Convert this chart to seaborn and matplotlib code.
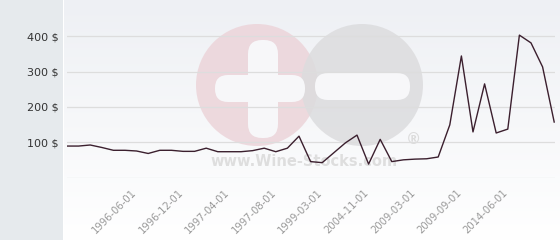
import numpy as np
import pandas as pd
import matplotlib
matplotlib.use("Agg")
import matplotlib.pyplot as plt
import matplotlib.transforms as mtransforms
from matplotlib.patches import Circle, FancyBboxPatch, Rectangle
import seaborn as sns

prices = [89, 89, 92, 85, 77, 77, 75, 68, 77, 77, 74, 74, 83, 73, 73, 73, 76,
          83, 73, 83, 117, 45, 42, 70, 98, 120, 38, 108, 45, 50, 52, 53, 58,
          149, 344, 129, 265, 126, 137, 403, 381, 313, 157]
tick_labels = ["1996-06-01", "1996-12-01", "1997-04-01", "1997-08-01",
               "1999-03-01", "2004-11-01", "2009-03-01", "2009-09-01",
               "2014-06-01"]
y_ticks = [100, 200, 300, 400]
y_tick_labels = ["100 $", "200 $", "300 $", "400 $"]

df = pd.DataFrame({"idx": np.arange(len(prices)), "price": prices})

W, H = 560, 240
fig = plt.figure(figsize=(W / 100, H / 100), dpi=100)
fig.patch.set_facecolor("white")

# background axes in pixel coordinates
bg = fig.add_axes([0, 0, 1, 1], zorder=0)
bg.set_xlim(0, W)
bg.set_ylim(H, 0)
bg.axis("off")
grad = np.linspace(0, 1, 256).reshape(-1, 1)
top = np.array([0xee, 0xf0, 0xf4]) / 255
bot = np.array([1.0, 1.0, 1.0])
img = top[None, None, :] * (1 - grad[:, :, None]) + bot[None, None, :] * grad[:, :, None]
bg.imshow(img, extent=(64, W, H, 0), aspect="auto", zorder=0)
bg.add_patch(Rectangle((0, 0), 63, H, facecolor="#e6eaed", edgecolor="none", zorder=1))

# watermark
bg.add_patch(Circle((257, 85), 61, facecolor="#ecd4d9", edgecolor="none", alpha=0.85, zorder=2))
bg.add_patch(Circle((362, 85), 61, facecolor="#dcdcde", edgecolor="none", alpha=0.85, zorder=3))
bg.add_patch(FancyBboxPatch((253, 45), 20, 88, boxstyle="round,pad=5,rounding_size=14",
                            facecolor="#f7f7f9", edgecolor="none", zorder=4))
bg.add_patch(FancyBboxPatch((220, 80), 80, 17, boxstyle="round,pad=5,rounding_size=13",
                            facecolor="#f7f7f9", edgecolor="none", zorder=4))
bg.add_patch(FancyBboxPatch((320, 78), 85, 17, boxstyle="round,pad=5,rounding_size=13",
                            facecolor="#f7f7f9", edgecolor="none", zorder=4))
bg.text(304, 162, "www.Wine-Stocks.com", fontsize=10.5, fontweight="bold",
        color="#dedede", ha="center", va="center", zorder=5)
bg.text(414, 139, "®", fontsize=11, fontweight="bold", color="#dcdcdc",
        ha="center", va="center", zorder=5)

# main axes
x0, x1 = 67, 555
ytop, ybot = 10, 177.5
ax = fig.add_axes([x0 / W, 1 - ybot / H, (x1 - x0) / W, (ybot - ytop) / H], zorder=1)
ax.patch.set_alpha(0)
sns.lineplot(data=df, x="idx", y="price", ax=ax, color="#3b1f2e", linewidth=1.0)
ax.set_xlim(0, len(prices) - 1 + 0.07)
ymax = (ybot - ytop) / 0.3533
ax.set_ylim(0, ymax)
for s in ax.spines.values():
    s.set_visible(False)
for v in [0] + y_ticks:
    ax.axhline(v, color="#dddddd", linewidth=0.9, zorder=0)
ax.set_yticks(y_ticks)
ax.set_yticklabels(y_tick_labels, fontsize=8, color="#333333")
ax.tick_params(axis="y", length=0, pad=6)
tick_pos = np.arange(len(tick_labels)) * 4 + 6
ax.set_xticks(tick_pos)
ax.set_xticklabels(tick_labels, rotation=45, ha="right", rotation_mode="anchor",
                   fontsize=7.2, color="#999999")
ax.tick_params(axis="x", length=0, pad=7)
shift = mtransforms.ScaledTranslation(-5 / 100, 0, fig.dpi_scale_trans)
for lbl in ax.get_xticklabels():
    lbl.set_transform(lbl.get_transform() + shift)
ax.set_xlabel("")
ax.set_ylabel("")

fig.savefig("out.png", dpi=100)
